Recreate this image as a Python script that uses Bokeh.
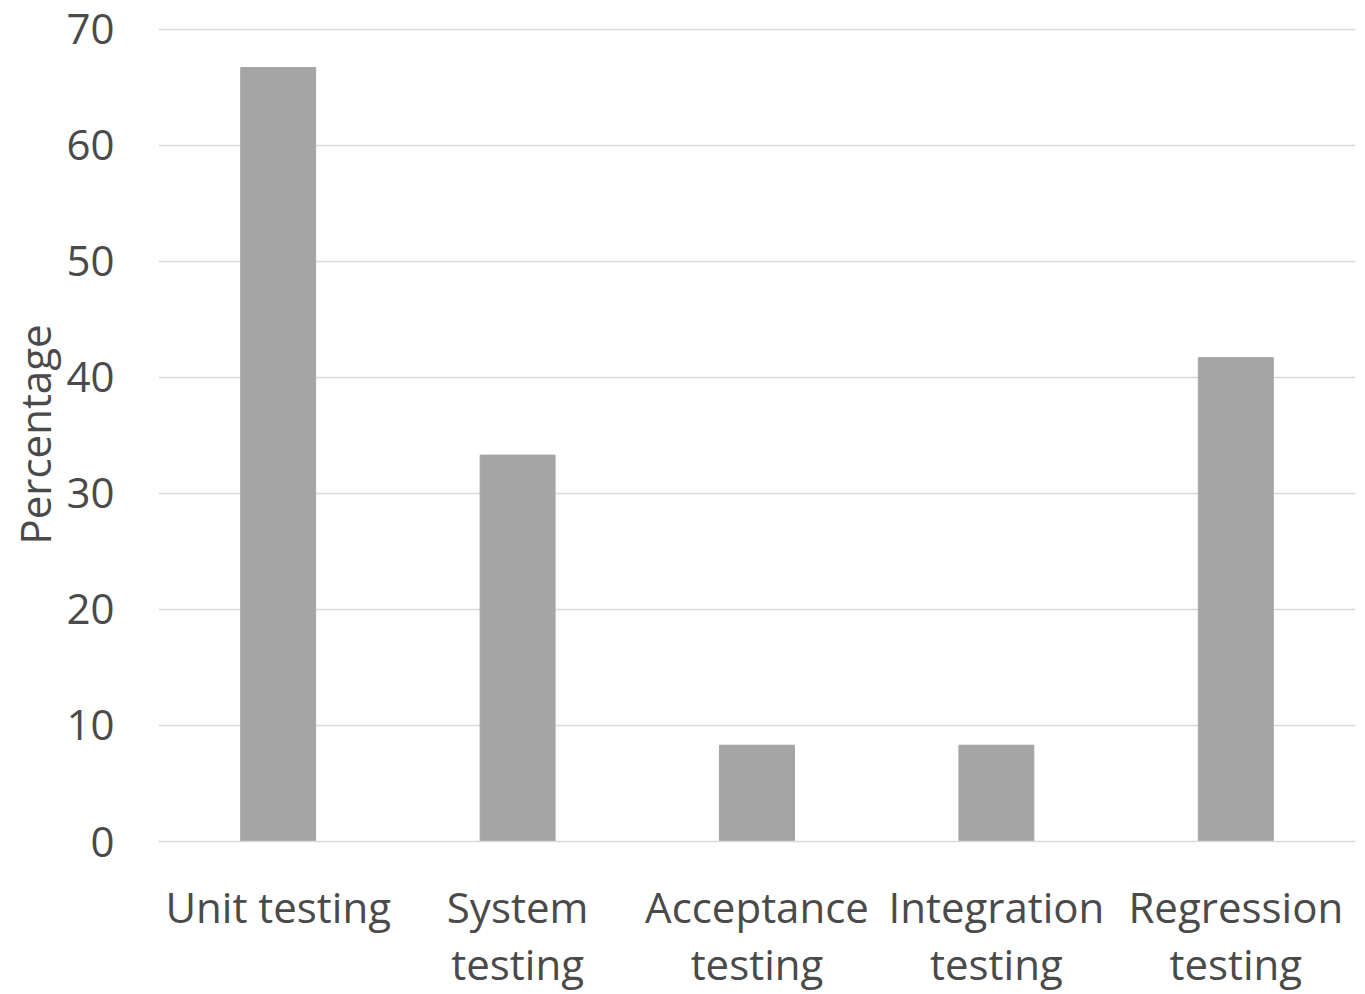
from bokeh.plotting import figure
from bokeh.models import Range1d, FactorRange, FixedTicker
from bokeh.embed import file_html
from bokeh.resources import INLINE

categories = ["Unit testing", "System\ntesting", "Acceptance\ntesting", "Integration\ntesting", "Regression\ntesting"]
values = [66.7, 33.3, 8.3, 8.3, 41.7]
y_ticks = [0, 10, 20, 30, 40, 50, 60, 70]

FONT = "Open Sans"
TXT = "#4a4a4a"
GRID = "#d9d9d9"

p = figure(width=1357, height=994, output_backend="svg", toolbar_location=None,
           x_range=FactorRange(*categories, range_padding=0), y_range=Range1d(0, 70.15))
p.vbar(x=categories, top=values, width=0.313, color="#a5a5a5")

p.min_border_left = 158
p.min_border_right = 2
p.min_border_top = 27
p.min_border_bottom = 140
p.outline_line_color = None

p.xgrid.grid_line_color = None
p.ygrid.grid_line_color = GRID
p.ygrid.grid_line_width = 1.5
p.yaxis.ticker = FixedTicker(ticks=y_ticks)

p.yaxis.axis_line_color = None
p.yaxis.major_tick_line_color = None
p.yaxis.major_tick_out = 0
p.yaxis.minor_tick_line_color = None
p.yaxis.minor_tick_out = 0
p.yaxis.major_label_standoff = 44
p.yaxis.axis_label = "Percentage"
p.yaxis.axis_label_standoff = 0
p.yaxis.axis_label_text_font_style = "normal"

p.xaxis.axis_line_color = GRID
p.xaxis.axis_line_width = 1.5
p.xaxis.major_tick_line_color = None
p.xaxis.major_tick_out = 0
p.xaxis.minor_tick_line_color = None
p.xaxis.minor_tick_out = 0
p.xaxis.major_label_standoff = 36
p.xaxis.major_label_text_line_height = 1.0

for ax in (p.xaxis, p.yaxis):
    ax.major_label_text_font = FONT
    ax.major_label_text_font_size = "42px"
    ax.major_label_text_color = TXT
    ax.axis_label_text_font = FONT
    ax.axis_label_text_font_size = "42px"
    ax.axis_label_text_color = TXT

open("out.html", "w").write(file_html(p, INLINE))
